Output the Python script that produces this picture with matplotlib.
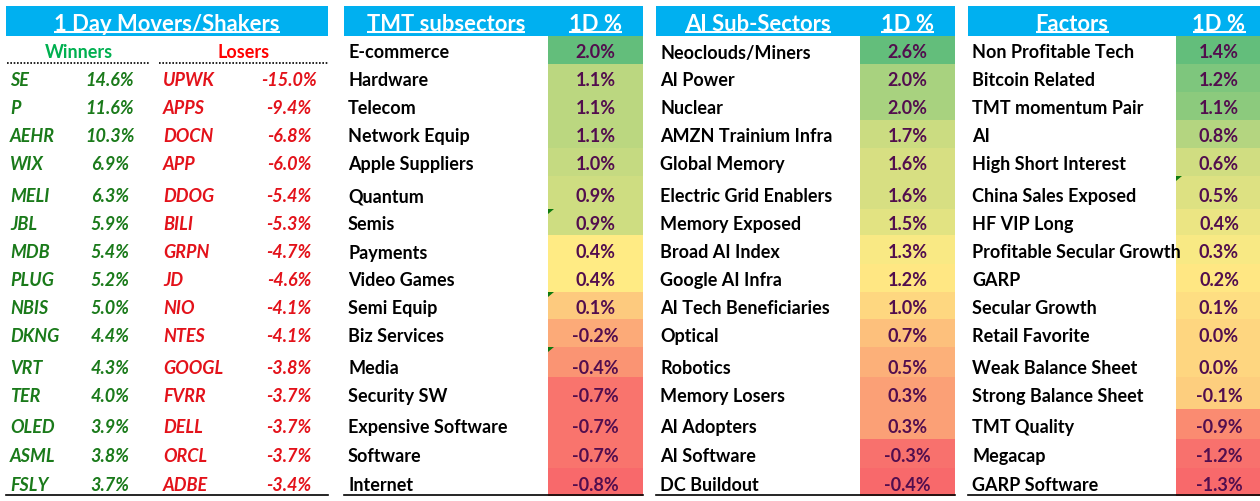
import numpy as np
import matplotlib.pyplot as plt
from matplotlib.patches import Rectangle, Polygon

win_tickers = ['SE', 'P', 'AEHR', 'WIX', 'MELI', 'JBL', 'MDB', 'PLUG', 'NBIS', 'DKNG',
               'VRT', 'TER', 'OLED', 'ASML', 'FSLY']
win_moves = [14.6, 11.6, 10.3, 6.9, 6.3, 5.9, 5.4, 5.2, 5.0, 4.4, 4.3, 4.0, 3.9, 3.8, 3.7]
lose_tickers = ['UPWK', 'APPS', 'DOCN', 'APP', 'DDOG', 'BILI', 'GRPN', 'JD', 'NIO', 'NTES',
                'GOOGL', 'FVRR', 'DELL', 'ORCL', 'ADBE']
lose_moves = [-15.0, -9.4, -6.8, -6.0, -5.4, -5.3, -4.7, -4.6, -4.1, -4.1, -3.8, -3.7, -3.7, -3.7, -3.4]

tmt_names = ['E-commerce', 'Hardware', 'Telecom', 'Network Equip', 'Apple Suppliers', 'Quantum',
             'Semis', 'Payments', 'Video Games', 'Semi Equip', 'Biz Services', 'Media',
             'Security SW', 'Expensive Software', 'Software', 'Internet']
tmt_moves = [2.0, 1.1, 1.1, 1.1, 1.0, 0.9, 0.9, 0.4, 0.4, 0.1, -0.2, -0.4, -0.7, -0.7, -0.7, -0.8]

ai_names = ['Neoclouds/Miners', 'AI Power', 'Nuclear', 'AMZN Trainium Infra', 'Global Memory',
            'Electric Grid Enablers', 'Memory Exposed', 'Broad AI Index', 'Google AI Infra',
            'AI Tech Beneficiaries', 'Optical', 'Robotics', 'Memory Losers', 'AI Adopters',
            'AI Software', 'DC Buildout']
ai_moves = [2.6, 2.0, 2.0, 1.7, 1.6, 1.6, 1.5, 1.3, 1.2, 1.0, 0.7, 0.5, 0.3, 0.3, -0.3, -0.4]

factor_names = ['Non Profitable Tech', 'Bitcoin Related', 'TMT momentum Pair', 'AI',
                'High Short Interest', 'China Sales Exposed', 'HF VIP Long',
                'Profitable Secular Growth', 'GARP', 'Secular Growth', 'Retail Favorite',
                'Weak Balance Sheet', 'Strong Balance Sheet', 'TMT Quality', 'Megacap',
                'GARP Software']
factor_moves = [1.4, 1.2, 1.1, 0.8, 0.6, 0.5, 0.4, 0.3, 0.2, 0.1, 0.0, 0.0, -0.1, -0.9, -1.2, -1.3]

# excel style rows (pixel edges) and text centres
row_edges = [37, 65, 93, 121, 149, 177, 210, 236, 265, 293, 320, 348, 378, 410, 440, 469, 497]
text_y = [51, 79, 107, 135, 163, 195, 223, 251, 279, 307, 335, 367, 395, 426, 455, 484]

FONT = 'Lato'
FS = 13
BLUE = '#00B0F0'
VALTXT = '#520E4E'

LOW = np.array([248, 105, 107]) / 255
MID = np.array([255, 235, 132]) / 255
HIGH = np.array([99, 190, 123]) / 255


def scale_color(v, vals):
    lo, mid, hi = min(vals), np.percentile(vals, 50), max(vals)
    if v <= mid:
        t = 0 if mid == lo else (v - lo) / (mid - lo)
        return LOW + t * (MID - LOW)
    t = (v - mid) / (hi - mid)
    return MID + t * (HIGH - MID)


fig = plt.figure(figsize=(12.6, 5.02), dpi=100)
ax = fig.add_axes([0, 0, 1, 1])
ax.set_xlim(0, 1260)
ax.set_ylim(502, 0)
ax.axis('off')

headers = []


def header(x0, x1, titles):
    ax.add_patch(Rectangle((x0, 7), x1 - x0, 30, color=BLUE, lw=0))
    for cx, txt in titles:
        t = ax.text(cx, 22.5, txt, ha='center', va='center_baseline', color='white',
                    fontsize=15.8, fontweight='bold', family=FONT)
        headers.append(t)


def txt(x, i, s, color, ha='left', italic=False):
    return ax.text(x, text_y[i] + 0.5, s, ha=ha, va='center_baseline', color=color,
                   fontsize=FS, fontweight='bold', style='italic' if italic else 'normal',
                   family=FONT)


# panel 1: movers / shakers
header(6, 328, [(167, '1 Day Movers/Shakers')])
txt(79, 0, 'Winners', '#00B050', ha='center')
txt(244, 0, 'Losers', '#FF0000', ha='center')
ax.plot([7, 150], [64, 64], color='black', lw=1.2, ls=(0, (1, 1)))
ax.plot([159, 328], [64, 64], color='black', lw=1.2, ls=(0, (1, 1)))
for i in range(len(win_tickers)):
    txt(10, i + 1, win_tickers[i], '#1A7A1A', italic=True)
    txt(110, i + 1, f'{win_moves[i]:.1f}%', '#1A7A1A', ha='center', italic=True)
    txt(163, i + 1, lose_tickers[i], '#E3121A', italic=True)
    txt(289, i + 1, f'{lose_moves[i]:.1f}%', '#E3121A', ha='center', italic=True)
ax.plot([6, 328], [496, 496], color='black', lw=1.2)


def sector_panel(x0, xv, x1, title, names, moves, flags):
    header(x0, x1, [((x0 + xv) / 2, title), ((xv + x1) / 2, '1D %')])
    clip = Rectangle((x0, 0), xv - x0, 502, transform=ax.transData, visible=False)
    ax.add_patch(clip)
    for i in range(len(names)):
        top, bot = row_edges[i], row_edges[i + 1]
        ax.add_patch(Rectangle((xv, top), x1 - xv, bot - top,
                               color=scale_color(moves[i], moves), lw=0))
        t = txt(x0 + 4, i, names[i], 'black')
        t.set_clip_path(clip)
        txt((xv + x1) / 2, i, f'{moves[i]:.1f}%', VALTXT, ha='center')
        if i in flags:
            ax.add_patch(Polygon([(xv, top), (xv + 6, top), (xv, top + 5)],
                                 color='#0E7A0E', lw=0))
    ax.plot([x0, x1], [496, 496], color='black', lw=1.2)


sector_panel(344, 548, 643, 'TMT subsectors', tmt_names, tmt_moves, [6, 9, 11])
sector_panel(656, 860, 955, 'AI Sub-Sectors', ai_names, ai_moves, [])
sector_panel(968, 1176, 1262, 'Factors', factor_names, factor_moves, [5])

# underline header texts
fig.canvas.draw()
inv = ax.transData.inverted()
for t in headers:
    bb = t.get_window_extent()
    (xa, _), (xb, _) = inv.transform([(bb.x0, bb.y0), (bb.x1, bb.y0)])
    ax.plot([xa, xb], [33, 33], color='white', lw=1.5, solid_capstyle='butt')

fig.savefig('out.png', dpi=100, facecolor='white')
